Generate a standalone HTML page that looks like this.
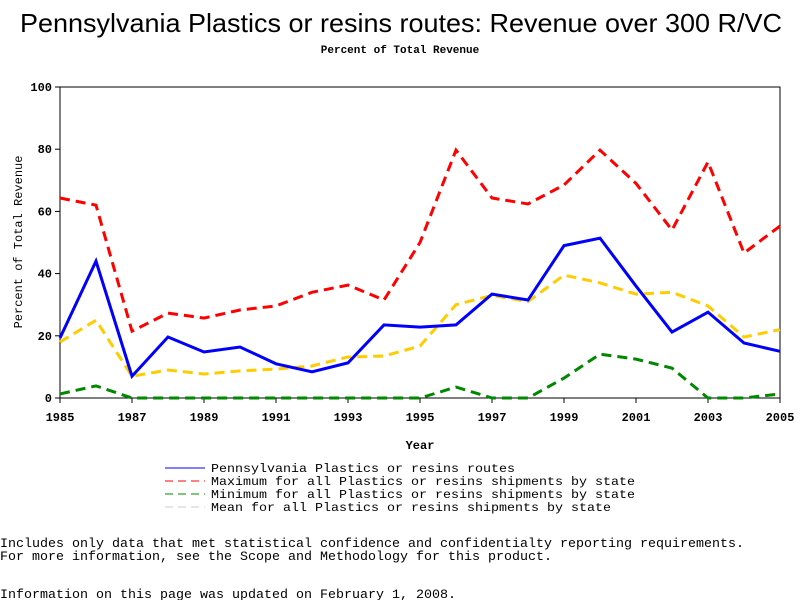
<!DOCTYPE html>
<html><head><meta charset="utf-8"><style>
body{margin:0;background:#fff;width:800px;height:600px;overflow:hidden}
svg text{font-family:"Liberation Mono",monospace;fill:#000}
</style></head><body>
<svg width="800" height="600">
<text x="20" y="32" textLength="762" lengthAdjust="spacingAndGlyphs" style="font-family:'Liberation Sans',sans-serif;font-size:26px">Pennsylvania Plastics or resins routes: Revenue over 300 R/VC</text>
<text x="400" y="53" text-anchor="middle" font-size="11" font-weight="bold">Percent of Total Revenue</text>
<rect x="60" y="87" width="720" height="311" fill="none" stroke="#000"/>
<g id="axes"></g>
<g id="series"></g>
<text x="420" y="449" text-anchor="middle" font-size="12" font-weight="bold">Year</text>
<text transform="translate(22,242) rotate(-90)" text-anchor="middle" font-size="12">Percent of Total Revenue</text>
<g id="legend" font-size="12"></g>
<text x="0" y="547" font-size="13" textLength="744" lengthAdjust="spacingAndGlyphs">Includes only data that met statistical confidence and confidentialty reporting requirements.</text>
<text x="0" y="560" font-size="13" textLength="552" lengthAdjust="spacingAndGlyphs">For more information, see the Scope and Methodology for this product.</text>
<text x="0" y="598" font-size="13" textLength="456" lengthAdjust="spacingAndGlyphs">Information on this page was updated on February 1, 2008.</text>
</svg>
<script>
const years=[1985,1986,1987,1988,1989,1990,1991,1992,1993,1994,1995,1996,1997,1998,1999,2000,2001,2002,2003,2004,2005];
const paValues=[19.3,44,7,19.6,14.8,16.4,11,8.4,11.3,23.5,22.8,23.5,33.4,31.5,49,51.4,36,21.2,27.6,17.7,15];
const maxValues=[64.3,62,21.5,27.3,25.7,28.3,29.6,34,36.3,31.5,50,79.7,64.3,62.4,68.5,79.7,69,54,75.9,46.6,55.3];
const minValues=[1.3,3.9,0,0,0,0,0,0,0,0,0,3.5,0,0,6.4,14.1,12.5,9.6,0,0,1.3];
const meanValues=[18,25,7,9,7.7,8.7,9.3,10.3,13.2,13.5,16.7,30,33,31,39.5,37,33.4,34,29.6,19.6,22];
const yTicks=[0,20,40,60,80,100];
const xTicks=[1985,1987,1989,1991,1993,1995,1997,1999,2001,2003,2005];
const seriesNames=["Pennsylvania Plastics or resins routes","Maximum for all Plastics or resins shipments by state","Minimum for all Plastics or resins shipments by state","Mean for all Plastics or resins shipments by state"];
const legendWidths=[304,424,424,400];
const NS="http://www.w3.org/2000/svg";
const X=y=>60+(y-1985)*720/20, Y=v=>398-v*3.11;
function mk(t,a,p){const e=document.createElementNS(NS,t);for(const k in a)e.setAttribute(k,a[k]);p.appendChild(e);return e;}
const ax=document.getElementById('axes');
yTicks.forEach(v=>{mk('line',{x1:55,x2:60,y1:Y(v),y2:Y(v),stroke:'#000'},ax);
 const t=mk('text',{x:52,y:Y(v)+4,'text-anchor':'end','font-size':12,'font-weight':'bold'},ax);t.textContent=v;
 
 });
xTicks.forEach(v=>{mk('line',{x1:X(v),x2:X(v),y1:398,y2:403,stroke:'#000'},ax);
 const t=mk('text',{x:X(v),y:421,'text-anchor':'middle','font-size':12,'font-weight':'bold'},ax);t.textContent=v;
 
 });
const sg=document.getElementById('series');
const defs=[[maxValues,'#f00','10,6','max-line'],[minValues,'#080','10,6','min-line'],[meanValues,'#fc0','10,6','mean-line'],[paValues,'#00f',null,'pennsylvania-line']];
defs.forEach(([vals,c,d,n])=>{const a={points:vals.map((v,i)=>X(years[i])+','+Y(v)).join(' '),fill:'none',stroke:c,'stroke-width':3};if(d)a['stroke-dasharray']=d;
 const p=mk('polyline',a,sg);
 
 });
const lg=document.getElementById('legend');
const lc=['#00f','#f00','#080','#ccc'];
seriesNames.forEach((s,i)=>{const y=468+i*13;
 const l=mk('line',{x1:165,x2:205,y1:y,y2:y,stroke:lc[i],'stroke-width':1},lg);if(i>0)l.setAttribute('stroke-dasharray','8,5');
 const t=mk('text',{x:211,y:y+4,textLength:legendWidths[i],lengthAdjust:'spacingAndGlyphs'},lg);t.textContent=s;
 
 });
</script>
</body></html>
